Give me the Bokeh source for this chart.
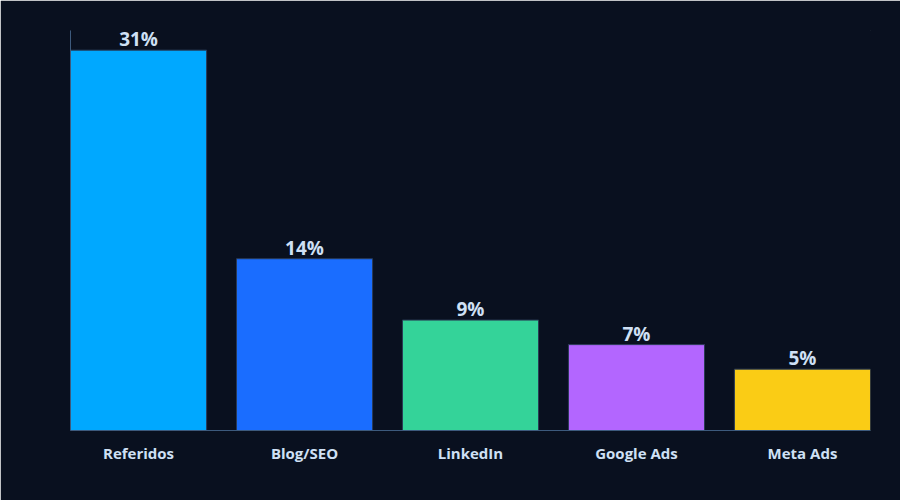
from bokeh.plotting import figure
from bokeh.models import ColumnDataSource, Range1d, FixedTicker
from bokeh.core.properties import value
from bokeh.embed import file_html
from bokeh.resources import INLINE

channels = ["Referidos", "Blog/SEO", "LinkedIn", "Google Ads", "Meta Ads"]
shares = [31, 14, 9, 7, 5]
colors = ["#00a8ff", "#1a6dff", "#34d399", "#b366ff", "#facc15"]

BG = "#09101f"
TXT = "#cfe0f5"

positions = list(range(len(channels)))
source = ColumnDataSource(data=dict(
    x=positions,
    share=shares,
    color=colors,
    label=[f"{s}%" for s in shares],
))

p = figure(width=900, height=500, output_backend="svg", toolbar_location=None,
           x_range=Range1d(-0.41, len(channels) - 1 + 0.41), y_range=Range1d(0, 32.6),
           background_fill_color=BG, border_fill_color=BG,
           min_border_left=70, min_border_right=30, min_border_top=30, min_border_bottom=70)
# None still drew a frame here, so paint it in the background colour
p.outline_line_color = BG

p.vbar(x="x", top="share", width=0.82, bottom=0, source=source,
       fill_color="color", line_color="#2a3a55", line_width=1)

p.text(x="x", y="share", text="label", source=source, text_align="center",
       text_baseline="bottom", y_offset=2, text_color=TXT,
       text_font=value("Open Sans"), text_font_style="bold", text_font_size="19px")

p.xgrid.grid_line_color = None
p.ygrid.grid_line_color = None

p.xaxis.ticker = FixedTicker(ticks=positions)
p.xaxis.major_label_overrides = {i: c for i, c in enumerate(channels)}
p.xaxis.major_label_text_font = "Open Sans"
p.xaxis.major_label_text_font_style = "bold"
p.xaxis.major_label_text_font_size = "15px"
p.xaxis.major_label_text_color = TXT
p.xaxis.major_label_standoff = 6
p.xaxis.major_tick_line_color = None
p.xaxis.minor_tick_line_color = None
p.xaxis.axis_line_color = "#3d5a7d"

p.yaxis.ticker = FixedTicker(ticks=[])
p.yaxis.major_tick_line_color = None
p.yaxis.minor_tick_line_color = None
p.yaxis.axis_line_color = "#3d5a7d"

html = file_html(p, INLINE)
html = html.replace("<body>", f'<body style="background:{BG}">', 1)
open("out.html", "w").write(html)
